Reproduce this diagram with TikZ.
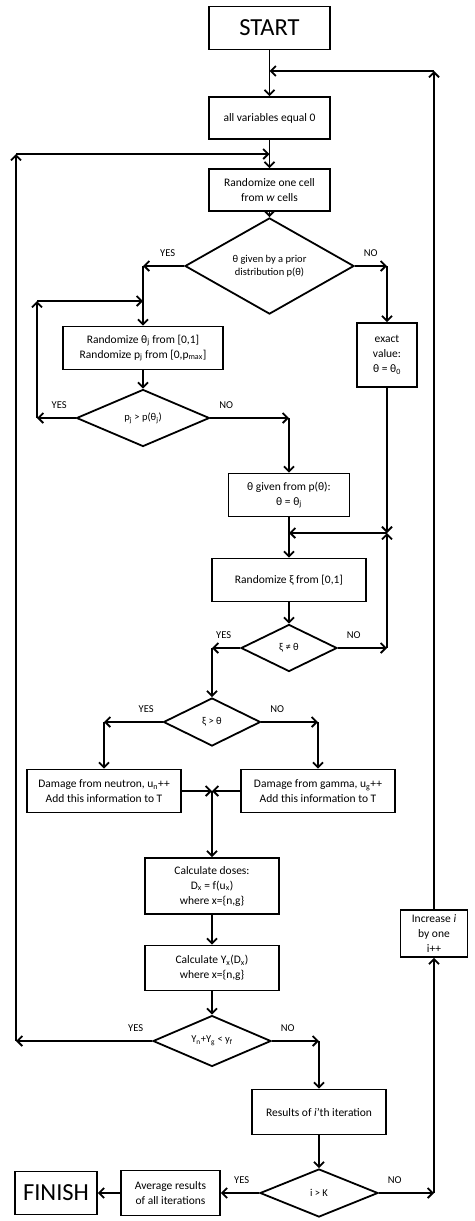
\documentclass[tikz,border=0pt]{standalone}
\usepackage{fontspec}
\setmainfont{Carlito}
\usepackage{tikz}
\usetikzlibrary{shapes.geometric, arrows.meta, positioning}
\tikzstyle{terminal} = [rectangle, minimum width=121pt, minimum height=43pt, text centered, draw=black, line width=1.8pt, font=\fontsize{24.5}{28}\selectfont]
\tikzstyle{process} = [rectangle, minimum width=121pt, minimum height=43pt, inner sep=2pt, text centered, align=center, draw=black, line width=1.8pt, font=\fontsize{11.5}{15}\selectfont]
\tikzstyle{decision} = [diamond, inner sep=0pt, text centered, align=center, draw=black, line width=1.8pt, font=\fontsize{10.5}{13.3}\selectfont]
\tikzstyle{arrow} = [line width=1.8pt, -{Straight Barb[length=5pt, width=10pt]}]
\tikzstyle{answerL} = [anchor=south east, inner sep=0pt, xshift=-8pt, yshift=9pt, font=\fontsize{10.5}{12}\selectfont]
\tikzstyle{answerR} = [anchor=south west, inner sep=0pt, xshift=8pt, yshift=9pt, font=\fontsize{10.5}{12}\selectfont]
\begin{document}
\begin{tikzpicture}[node distance=72pt, x=1pt, y=1pt]
    \useasboundingbox (0,0) rectangle (474,-1221);
    \node (start) [terminal] at (269.5,-28) {START};
    \node (init) [process, minimum height=42pt, below of = start, yshift=-18pt] {all variables equal 0};
    \node (cell) [process, minimum height=42pt, below of = init] {Randomize one cell\\from \textit{w} cells};
    \node (prior) [decision, minimum width=169pt, minimum height=58pt, below of = cell, yshift=-4pt] {θ given by a prior\\distribution p(θ)};
    \node (randj) [process, minimum width=160pt, below of = prior, xshift=-126.5pt, yshift=-10pt] {Randomize θ\textsubscript{j} from [0,1]\\Randomize p\textsubscript{j} from [0,p\textsubscript{max}]};
    \node (exact) [process, minimum width=60pt, minimum height=64pt, below of = prior, xshift=117.5pt, yshift=-17pt] {exact\\value:\\θ = θ\textsubscript{0}};
    \node (accept) [decision, minimum width=133pt, minimum height=57pt, below of = randj, yshift=2pt] {p\textsubscript{j} > p(θ\textsubscript{j})};
    \node (given) [process, below of = accept, xshift=146pt, yshift=-5pt] {θ given from p(θ):\\θ = θ\textsubscript{j}};
    \node (xi) [process, minimum width=154pt, below of = given, yshift=-13pt] {Randomize ξ from [0,1]};
    \node (neq) [decision, minimum width=96pt, minimum height=47pt, below of = xi, yshift=4pt] {ξ ≠ θ};
    \node (greater) [decision, minimum width=97pt, minimum height=48pt, below of = neq, xshift=-77pt, yshift=-2pt] {ξ > θ};
    \node (neut) [process, minimum width=154pt, below of = greater, xshift=-108pt, yshift=3pt] {Damage from neutron, u\textsubscript{n}++\\Add this information to T};
    \node (gamma) [process, minimum width=154pt, right of = neut, xshift=142pt] {Damage from gamma, u\textsubscript{g}++\\Add this information to T};
    \node (dose) [process, minimum width=134pt, minimum height=56pt, below of = greater, yshift=-92pt] {Calculate doses:\\D\textsubscript{x} = f(u\textsubscript{x})\\where x=\{n,g\}};
    \node (yx) [process, minimum width=134pt, minimum height=45pt, below of = dose, yshift=-10pt] {Calculate Y\textsubscript{x}(D\textsubscript{x})\\where x=\{n,g\}};
    \node (check) [decision, minimum width=118pt, minimum height=48pt, below of = yx, yshift=-1pt] {Y\textsubscript{n}+Y\textsubscript{g} < y\textsubscript{f}};
    \node (res) [process, minimum width=134pt, minimum height=45pt, below of = check, xshift=107pt, yshift=1pt] {Results of \textit{i}'th iteration};
    \node (last) [decision, minimum width=118pt, minimum height=48pt, below of = res, yshift=-9pt] {i > K};
    \node (avg) [process, minimum width=99pt, minimum height=45pt, left of = last, xshift=-76.5pt] {Average results\\of all iterations};
    \node (finish) [terminal, minimum width=82pt, left of = avg, xshift=-42.5pt] {FINISH};
    \node (inc) [process, minimum width=67pt, minimum height=47pt, above of = last, xshift=115pt, yshift=187.5pt] {Increase \textit{i}\\by one\\i++};
    \coordinate (backL) at (16,-154);
    \coordinate (backR) at (434,-71);
    \coordinate (retry) at (37,-301);
    \coordinate (merge) at (387,-533);
    \draw[arrow] (start) -- (init);
    \draw[arrow] (init) -- (cell);
    \draw[arrow] (cell) -- (prior);
    \draw[arrow] (prior.west) -- (prior.west -| randj.north) node[pos=0, answerL] {YES};
    \draw[arrow] (prior.west -| randj.north) -- (randj);
    \draw[arrow] (prior.east) -- (prior.east -| exact.north) node[pos=0, answerR] {NO};
    \draw[arrow] (prior.east -| exact.north) -- (exact);
    \draw[arrow] (randj) -- (accept);
    \draw[arrow] (accept.west) -- (accept.west -| retry) node[pos=0, answerL] {YES};
    \draw[arrow] (accept.west -| retry) -- (retry);
    \draw[arrow] (retry) -- (retry -| randj.north);
    \draw[arrow] (accept.east) -- (accept.east -| given.north) node[pos=0, answerR] {NO};
    \draw[arrow] (accept.east -| given.north) -- (given);
    \draw[arrow] (given) -- (xi);
    \draw[arrow] (exact) -- (merge);
    \draw[arrow] (merge) -- (merge -| xi.north);
    \draw[arrow] (xi) -- (neq);
    \draw[arrow] (neq.east) -- (neq.east -| merge) node[pos=0, answerR] {NO};
    \draw[arrow] (neq.east -| merge) -- (merge);
    \draw[arrow] (neq.west) -- (neq.west -| greater.north) node[pos=0, answerL] {YES};
    \draw[arrow] (neq.west -| greater.north) -- (greater);
    \draw[arrow] (greater.west) -- (greater.west -| neut.north) node[pos=0, answerL] {YES};
    \draw[arrow] (greater.west -| neut.north) -- (neut);
    \draw[arrow] (greater.east) -- (greater.east -| gamma.north) node[pos=0, answerR] {NO};
    \draw[arrow] (greater.east -| gamma.north) -- (gamma);
    \draw[arrow] (neut) -- (neut -| dose.north);
    \draw[arrow] (gamma) -- (gamma -| dose.north);
    \draw[arrow] (neut -| dose.north) -- (dose);
    \draw[arrow] (dose) -- (yx);
    \draw[arrow] (yx) -- (check);
    \draw[arrow] (check.west) -- (check.west -| backL) node[pos=0, answerL] {YES};
    \draw[arrow] (check.west -| backL) -- (backL);
    \draw[arrow] (backL) -- (backL -| cell.north);
    \draw[arrow] (check.east) -- (check.east -| res.north) node[pos=0, answerR] {NO};
    \draw[arrow] (check.east -| res.north) -- (res);
    \draw[arrow] (res) -- (last);
    \draw[arrow] (last.east) -- (last.east -| inc.south) node[pos=0, answerR] {NO};
    \draw[arrow] (last.east -| inc.south) -- (inc);
    \draw[arrow] (inc) -- (backR);
    \draw[arrow] (backR) -- (backR -| start.south);
    \draw[arrow] (last) -- (avg) node[pos=0, answerL, xshift=-1pt] {YES};
    \draw[arrow] (avg) -- (finish);
\end{tikzpicture}
\end{document}
